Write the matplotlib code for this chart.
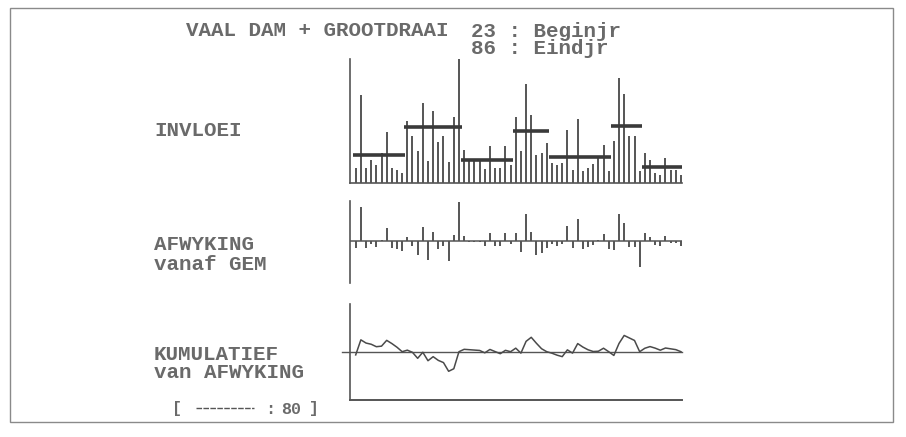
import numpy as np
import matplotlib
matplotlib.use("Agg")
import matplotlib.pyplot as plt
from matplotlib.lines import Line2D
from matplotlib.patches import Rectangle

# ---------------- data ----------------
years = list(range(1923, 1987))
inflow = [15, 88, 15, 23, 18, 30, 51, 15, 13, 10,
          62, 47, 32, 80, 22, 72, 41, 47, 21, 66,
          124, 33, 22, 22, 22, 14, 37, 15, 15, 37,
          18, 66, 32, 99, 68, 28, 30, 40, 20, 18,
          20, 53, 13, 64, 12, 15, 19, 27, 38, 12,
          42, 105, 89, 47, 47, 12, 30, 23, 10, 8,
          25, 13, 13, 8]
seg_start = [1923, 1933, 1944, 1954, 1961, 1973, 1979]
seg_end = [1932, 1943, 1953, 1960, 1972, 1978, 1986]

title = "VAAL DAM + GROOTDRAAI"
begin_txt = "23 : Beginjr"
end_txt = "86 : Eindjr"
lab1 = "INVLOEI"
lab2 = ["AFWYKING", "vanaf GEM"]
lab3 = ["KUMULATIEF", "van AFWYKING"]
scale_txt = "80"

# ---------------- derived series ----------------
yrs = np.array(years)
h = np.array(inflow, dtype=float)
seg_mean = []
dev = np.zeros_like(h)
cum = np.zeros_like(h)
for s, e in zip(seg_start, seg_end):
    m = (yrs >= s) & (yrs <= e)
    mu = h[m].mean()
    seg_mean.append(mu)
    dev[m] = h[m] - mu
    cum[m] = np.cumsum(dev[m])

# ---------------- layout ----------------
W, H = 906, 437
fig = plt.figure(figsize=(W / 100, H / 100), dpi=100)
fig.patch.set_facecolor("white")

GRAY = "#555555"
DARK = "#3a3a3a"
TXT = "#6a6a6a"
FONT = "Liberation Mono"

def fx(x):
    return x / W

def fy(y):
    return 1 - y / H

x_left, x_right = 350, 682.3
x0_px, step_px = 355.7, 5.163
xlim = (years[0] - (x0_px - x_left) / step_px, years[0] + (x_right - x0_px) / step_px)

def make_ax(top, bottom):
    ax = fig.add_axes([fx(x_left), fy(bottom), (x_right - x_left) / W, (bottom - top) / H])
    ax.set_xlim(*xlim)
    ax.set_xticks([]); ax.set_yticks([])
    for sp in ax.spines.values():
        sp.set_visible(False)
    ax.spines["left"].set_visible(True)
    ax.spines["left"].set_color(GRAY)
    ax.spines["left"].set_linewidth(1.2)
    ax.patch.set_alpha(0)
    return ax

# top panel: inflow
ax1 = make_ax(59, 183)
ax1.set_ylim(0, 124)
ax1.spines["bottom"].set_visible(True)
ax1.spines["bottom"].set_color(GRAY)
ax1.spines["bottom"].set_linewidth(1.2)
ax1.vlines(years, 0, inflow, color=GRAY, lw=1.4)
for s, e, mu in zip(seg_start, seg_end, seg_mean):
    ax1.hlines(mu, s - 0.6, e + 0.5, color=DARK, lw=2.6)

# middle panel: deviation
k_dev = 0.57
ax2 = make_ax(201, 283)
ax2.set_ylim(-(283 - 241) / k_dev, (241 - 201) / k_dev)
ax2.axhline(0, color=GRAY, lw=1.1)
ax2.vlines(years, 0, dev, color=GRAY, lw=1.4)

# bottom panel: cumulative deviation
k_cum = 0.25
ax3 = make_ax(304, 400)
ax3.set_ylim(-(400 - 351.7) / k_cum, (351.7 - 304) / k_cum)
ax3.spines["bottom"].set_visible(True)
ax3.spines["bottom"].set_color(GRAY)
ax3.spines["bottom"].set_linewidth(1.4)
ax3.axhline(0, xmin=-0.025, xmax=1.0, color=GRAY, lw=1.0, clip_on=False)
ax3.plot(years, cum, color="#4a4a4a", lw=1.1)

# ---------------- texts ----------------
tk = dict(family=FONT, color=TXT, fontsize=15, fontweight="bold", va="center", ha="left")
fig.text(fx(186), fy(31), title, **tk)
fig.text(fx(471), fy(31), begin_txt + "\n" + end_txt, family=FONT, color=TXT, fontsize=15,
         fontweight="bold", ha="left", va="top", linespacing=0.85,
         transform=fig.transFigure).set_position((fx(471), fy(22)))
fig.text(fx(154), fy(131), lab1, **tk)
fig.text(fx(154), fy(244), lab2[0], **tk)
fig.text(fx(154), fy(264), lab2[1], **tk)
fig.text(fx(154), fy(354), lab3[0], **tk)
fig.text(fx(154), fy(373), lab3[1], **tk)

tk2 = dict(family=FONT, color=TXT, fontsize=12, fontweight="bold", va="center", ha="left")
fig.text(fx(172), fy(409), "[", **tk2)
fig.add_artist(Line2D([fx(196), fx(254)], [fy(408), fy(408)], color=GRAY, lw=1.0,
                      linestyle=(0, (4, 1))))
fig.text(fx(265), fy(409), ":", **tk2)
fig.text(fx(281), fy(409), scale_txt, **tk2)
fig.text(fx(309), fy(409), "]", **tk2)

# outer frame of the scanned page
fig.add_artist(Rectangle((fx(10), fy(422)), (893 - 10) / W, (422 - 8) / H,
                         fill=False, edgecolor="#8a8a8a", lw=1.0))

fig.savefig("out.png", dpi=100, facecolor="white")
